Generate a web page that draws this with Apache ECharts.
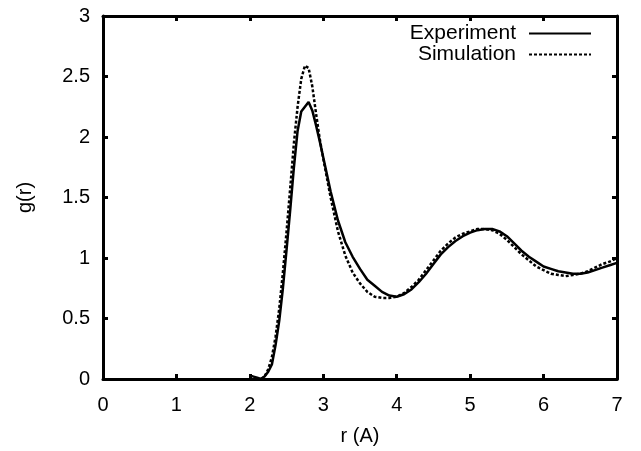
<!DOCTYPE html>
<html><head><meta charset="utf-8">
<script src="https://cdn.jsdelivr.net/npm/echarts@6/dist/echarts.min.js"></script>
<style>html,body{margin:0;padding:0;background:#fff}#c{width:641px;height:451px}</style>
</head><body><div id="c"></div>
<script>
const expR = [2.0,2.05,2.1,2.15,2.2,2.25,2.3,2.35,2.4,2.45,2.5,2.55,2.6,2.65,2.7,2.75,2.8,2.85,2.9,2.95,3.0,3.1,3.2,3.3,3.4,3.5,3.6,3.7,3.8,3.9,4.0,4.1,4.2,4.3,4.4,4.5,4.6,4.7,4.8,4.9,5.0,5.1,5.2,5.3,5.4,5.5,5.6,5.7,5.8,5.9,6.0,6.1,6.2,6.3,6.4,6.5,6.6,6.7,6.8,6.9,7.0];
const expG = [0.03,0.02,0.01,0.0,0.02,0.06,0.12,0.28,0.48,0.75,1.07,1.40,1.75,2.05,2.21,2.25,2.29,2.22,2.10,1.97,1.83,1.55,1.31,1.13,1.01,0.91,0.82,0.77,0.72,0.69,0.68,0.70,0.74,0.80,0.87,0.95,1.03,1.09,1.14,1.18,1.21,1.23,1.24,1.24,1.22,1.18,1.12,1.06,1.01,0.97,0.93,0.91,0.89,0.88,0.87,0.87,0.88,0.90,0.92,0.94,0.96];
const simR = [2.15,2.2,2.25,2.3,2.35,2.4,2.45,2.5,2.55,2.6,2.65,2.7,2.75,2.8,2.85,2.9,2.95,3.0,3.1,3.2,3.3,3.4,3.5,3.6,3.7,3.8,3.9,4.0,4.1,4.2,4.3,4.4,4.5,4.6,4.7,4.8,4.9,5.0,5.1,5.2,5.3,5.4,5.5,5.6,5.7,5.8,5.9,6.0,6.1,6.2,6.3,6.4,6.5,6.6,6.7,6.8,6.9,7.0];
const simG = [0.0,0.02,0.08,0.18,0.35,0.58,0.88,1.22,1.58,1.95,2.25,2.48,2.59,2.57,2.42,2.20,1.99,1.82,1.50,1.22,1.02,0.88,0.79,0.72,0.68,0.67,0.67,0.68,0.71,0.76,0.82,0.90,0.98,1.06,1.12,1.17,1.20,1.22,1.24,1.24,1.23,1.20,1.15,1.09,1.03,0.98,0.93,0.90,0.87,0.86,0.85,0.86,0.87,0.89,0.92,0.95,0.97,1.00];
const xTicks = [0,1,2,3,4,5,6,7];
const yTicks = [0,0.5,1,1.5,2,2.5,3];
const seriesNames = ['Experiment','Simulation'];

const font = 'Liberation Sans, Arial, Helvetica, sans-serif';
const chart = echarts.init(document.getElementById('c'), null, {renderer:'canvas'});
const axLine = {show:true, onZero:false, lineStyle:{color:'#000', width:3}};
const tick = {show:true, inside:true, length:5, lineStyle:{color:'#000', width:3}};
chart.setOption({
  animation:false,
  backgroundColor:'#fff',
  grid:{left:103, right:24, top:16, bottom:71, containLabel:false},
  legend:{
    orient:'vertical', right:49, top:23, padding:0, align:'right', itemWidth:62, itemHeight:12, itemGap:0,
    itemStyle:{opacity:0},
    textStyle:{fontFamily:font, fontSize:21, color:'#000', padding:[0,8,0,0]},
    data:seriesNames
  },
  xAxis:[{
    type:'value', min:xTicks[0], max:xTicks[xTicks.length-1], interval:1,
    axisLine:axLine, axisTick:tick, splitLine:{show:false},
    axisLabel:{fontFamily:font, fontSize:20, color:'#000', margin:16},
    name:'r (A)', nameLocation:'middle', nameGap:47,
    nameTextStyle:{fontFamily:font, fontSize:20, color:'#000'}
  },{
    type:'value', position:'top', min:0, max:7, interval:1,
    axisLine:axLine, axisTick:tick, axisLabel:{show:false}, splitLine:{show:false}
  }],
  yAxis:[{
    type:'value', min:yTicks[0], max:yTicks[yTicks.length-1], interval:0.5,
    axisLine:axLine, axisTick:tick, splitLine:{show:false},
    axisLabel:{fontFamily:font, fontSize:20, color:'#000', margin:13},
    name:'g(r)', nameLocation:'middle', nameGap:68, nameRotate:90,
    nameTextStyle:{fontFamily:font, fontSize:20, color:'#000'}
  },{
    type:'value', position:'right', min:0, max:3, interval:0.5,
    axisLine:axLine, axisTick:tick, axisLabel:{show:false}, splitLine:{show:false}
  }],
  series:[{
    name:seriesNames[0], type:'line', symbol:'none', showSymbol:false,
    data:expR.map((r,i)=>[r,expG[i]]),
    lineStyle:{color:'#000', width:2.5, type:'solid'}, itemStyle:{color:'#000'}
  },{
    name:seriesNames[1], type:'line', symbol:'none', showSymbol:false,
    data:simR.map((r,i)=>[r,simG[i]]),
    lineStyle:{color:'#000', width:2.5, type:[3,2]}, itemStyle:{color:'#000'}
  }]
});
</script></body></html>
